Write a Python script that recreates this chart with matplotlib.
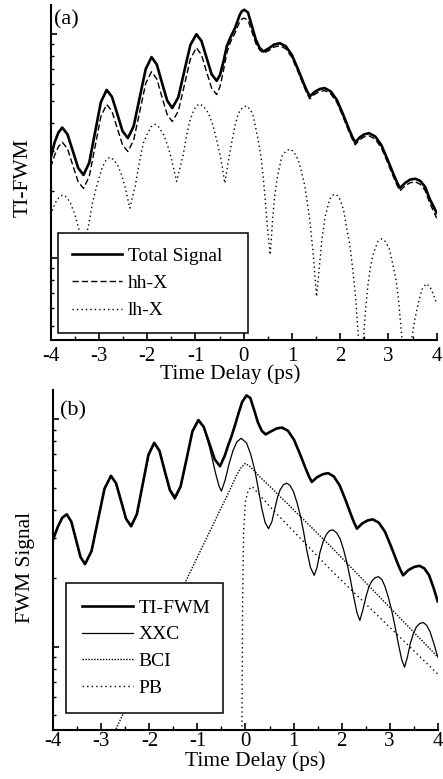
import numpy as np
import matplotlib
matplotlib.use("Agg")
import matplotlib.pyplot as plt
from matplotlib.ticker import LogLocator, NullFormatter, MultipleLocator

plt.rcParams['font.family'] = ['Liberation Serif', 'DejaVu Serif']
plt.rcParams['axes.unicode_minus'] = False

# ---------------- data (signal values given as log10 of arb. units) ----------------
xticks = [-4, -3, -2, -1, 0, 1, 2, 3, 4]
xtick_labels = ['-4', '-3', '-2', '-1', '0', '1', '2', '3', '4']

# panel (a): Total Signal and hh-X share delay points
a_x = [-4.00, -3.92, -3.84, -3.76, -3.65, -3.54, -3.43, -3.32, -3.20, -3.08, -2.96, -2.84,
       -2.73, -2.62, -2.51, -2.40, -2.28, -2.155, -2.03, -1.91, -1.80, -1.695, -1.585, -1.48,
       -1.355, -1.23, -1.105, -0.98, -0.875, -0.77, -0.665, -0.56, -0.49, -0.42, -0.35, -0.28,
       -0.18, -0.08, -0.04, 0.01, 0.09, 0.17, 0.25, 0.33, 0.41, 0.52, 0.63, 0.75, 0.874,
       0.998, 1.122, 1.246, 1.308, 1.37, 1.47, 1.58, 1.68, 1.806, 1.932, 2.058, 2.184, 2.247,
       2.31, 2.41, 2.50, 2.60, 2.728, 2.856, 2.984, 3.112, 3.176, 3.24, 3.35, 3.45, 3.56,
       3.66, 3.76, 3.86, 3.94, 4.00]
a_total_log10 = [0.446, 0.515, 0.560, 0.582, 0.551, 0.477, 0.402, 0.371, 0.426, 0.561, 0.695,
                 0.750, 0.719, 0.643, 0.566, 0.535, 0.588, 0.716, 0.843, 0.896, 0.863, 0.783,
                 0.702, 0.669, 0.717, 0.834, 0.950, 0.998, 0.968, 0.894, 0.820, 0.790, 0.817,
                 0.875, 0.944, 0.981, 1.025, 1.085, 1.100, 1.107, 1.095, 1.035, 0.975, 0.937,
                 0.921, 0.935, 0.952, 0.958, 0.944, 0.906, 0.844, 0.778, 0.747, 0.721, 0.741,
                 0.754, 0.758, 0.743, 0.705, 0.642, 0.574, 0.543, 0.516, 0.539, 0.552, 0.557,
                 0.542, 0.503, 0.438, 0.371, 0.339, 0.312, 0.336, 0.350, 0.354, 0.344, 0.318,
                 0.262, 0.228, 0.201]
a_hh_log10 = [0.405, 0.458, 0.496, 0.517, 0.487, 0.413, 0.340, 0.311, 0.364, 0.497, 0.631,
              0.685, 0.655, 0.579, 0.504, 0.475, 0.526, 0.652, 0.779, 0.831, 0.799, 0.719,
              0.640, 0.609, 0.655, 0.770, 0.887, 0.938, 0.906, 0.831, 0.758, 0.729, 0.765,
              0.835, 0.914, 0.960, 1.003, 1.055, 1.065, 1.070, 1.060, 1.010, 0.958, 0.928,
              0.914, 0.925, 0.941, 0.947, 0.933, 0.895, 0.833, 0.767, 0.736, 0.710, 0.730,
              0.743, 0.747, 0.732, 0.694, 0.631, 0.563, 0.532, 0.505, 0.528, 0.541, 0.545,
              0.530, 0.491, 0.425, 0.358, 0.326, 0.300, 0.323, 0.336, 0.340, 0.329, 0.302,
              0.244, 0.207, 0.178]
a_lh_x = [-4.00, -3.91, -3.83, -3.75, -3.67, -3.59, -3.50, -3.43, -3.32, -3.22, -3.13, -3.05,
          -2.93, -2.85, -2.77, -2.69, -2.60, -2.53, -2.46, -2.36, -2.25, -2.16, -2.08, -2.00,
          -1.92, -1.84, -1.76, -1.66, -1.58, -1.51, -1.39, -1.26, -1.18, -1.11, -1.03, -0.99,
          -0.91, -0.83, -0.73, -0.64, -0.56, -0.47, -0.39, -0.32, -0.25, -0.18, -0.11, -0.02,
          0.06, 0.14, 0.20, 0.30, 0.36, 0.41, 0.45, 0.49, 0.55, 0.61, 0.65, 0.70, 0.79, 0.88,
          0.96, 1.04, 1.13, 1.20, 1.27, 1.37, 1.44, 1.51, 1.57, 1.62, 1.69, 1.78, 1.84, 1.89,
          1.95, 2.00, 2.07, 2.13, 2.20, 2.27, 2.33, 2.38, 2.43, 2.48, 2.53, 2.58, 2.63, 2.69,
          2.78, 2.86, 2.94, 3.02, 3.10, 3.16, 3.21, 3.27, 3.36, 3.48, 3.54, 3.59, 3.69, 3.78,
          3.86, 3.93, 4.00]
a_lh_log10 = [0.193, 0.245, 0.270, 0.282, 0.272, 0.245, 0.195, 0.141, 0.052, 0.141, 0.250,
              0.319, 0.405, 0.438, 0.450, 0.438, 0.409, 0.370, 0.319, 0.223, 0.319, 0.430,
              0.513, 0.552, 0.585, 0.597, 0.585, 0.550, 0.505, 0.453, 0.342, 0.453, 0.550,
              0.617, 0.660, 0.676, 0.688, 0.676, 0.646, 0.595, 0.527, 0.440, 0.334, 0.430,
              0.513, 0.590, 0.646, 0.672, 0.679, 0.662, 0.632, 0.527, 0.450, 0.349, 0.250,
              0.141, 0.015, 0.201, 0.290, 0.364, 0.453, 0.478, 0.486, 0.474, 0.438, 0.385,
              0.319, 0.171, 0.022, -0.171, -0.037, 0.082, 0.186, 0.260, 0.280, 0.285, 0.278,
              0.260, 0.215, 0.141, 0.060, -0.067, -0.200, -0.364, -0.557, -0.364, -0.220,
              -0.111, -0.035, 0.022, 0.074, 0.086, 0.074, 0.040, -0.037, -0.100, -0.186,
              -0.334, -0.557, -0.364, -0.280, -0.230, -0.141, -0.114, -0.126, -0.160, -0.204]

# panel (b)
b_ti_x = [-4.00, -3.90, -3.81, -3.72, -3.625, -3.53, -3.435, -3.34, -3.205, -3.07, -2.935,
          -2.80, -2.695, -2.59, -2.485, -2.38, -2.26, -2.14, -2.02, -1.90, -1.79, -1.685,
          -1.575, -1.47, -1.35, -1.225, -1.105, -0.98, -0.87, -0.755, -0.64, -0.53, -0.43,
          -0.36, -0.29, -0.22, -0.15, -0.07, 0.02, 0.10, 0.18, 0.26, 0.34, 0.42, 0.53, 0.65,
          0.76, 0.884, 1.008, 1.132, 1.256, 1.318, 1.38, 1.49, 1.61, 1.72, 1.84, 1.96, 2.08,
          2.20, 2.26, 2.32, 2.43, 2.54, 2.65, 2.776, 2.902, 3.028, 3.154, 3.217, 3.28, 3.39,
          3.51, 3.62, 3.72, 3.82, 3.91, 4.00]
b_ti_log10 = [0.474, 0.530, 0.568, 0.582, 0.550, 0.473, 0.395, 0.363, 0.420, 0.557, 0.694,
              0.751, 0.719, 0.641, 0.562, 0.530, 0.583, 0.713, 0.843, 0.896, 0.861, 0.776,
              0.690, 0.655, 0.705, 0.826, 0.946, 0.996, 0.966, 0.895, 0.823, 0.793, 0.840,
              0.885, 0.925, 0.972, 1.022, 1.075, 1.104, 1.093, 1.040, 0.985, 0.948, 0.933,
              0.946, 0.959, 0.963, 0.949, 0.910, 0.848, 0.781, 0.750, 0.724, 0.745, 0.758,
              0.763, 0.748, 0.709, 0.646, 0.578, 0.546, 0.519, 0.542, 0.555, 0.560, 0.545,
              0.506, 0.442, 0.373, 0.341, 0.314, 0.337, 0.351, 0.356, 0.345, 0.315, 0.262,
              0.200]
b_xxc_x = [-4.00, -3.90, -3.81, -3.72, -3.625, -3.53, -3.435, -3.34, -3.205, -3.07, -2.935,
           -2.80, -2.695, -2.59, -2.485, -2.38, -2.26, -2.14, -2.02, -1.90, -1.79, -1.685,
           -1.575, -1.47, -1.35, -1.225, -1.105, -0.98, -0.86, -0.74, -0.62, -0.55, -0.50,
           -0.42, -0.34, -0.26, -0.18, -0.09, 0.02, 0.11, 0.20, 0.27, 0.34, 0.41, 0.48, 0.55,
           0.61, 0.67, 0.72, 0.79, 0.86, 0.93, 1.00, 1.07, 1.14, 1.21, 1.27, 1.35, 1.43, 1.49,
           1.55, 1.62, 1.69, 1.75, 1.82, 1.90, 1.97, 2.04, 2.11, 2.18, 2.25, 2.32, 2.38, 2.44,
           2.51, 2.57, 2.63, 2.70, 2.77, 2.84, 2.90, 2.97, 3.04, 3.11, 3.18, 3.25, 3.31, 3.37,
           3.43, 3.50, 3.56, 3.63, 3.70, 3.77, 3.84, 3.92, 4.00]
b_xxc_log10 = [0.474, 0.530, 0.568, 0.582, 0.550, 0.473, 0.395, 0.363, 0.420, 0.557, 0.694,
               0.751, 0.719, 0.641, 0.562, 0.527, 0.580, 0.710, 0.840, 0.893, 0.858, 0.771,
               0.684, 0.648, 0.700, 0.823, 0.944, 0.994, 0.960, 0.870, 0.760, 0.705, 0.684,
               0.735, 0.805, 0.862, 0.900, 0.916, 0.896, 0.845, 0.770, 0.690, 0.607, 0.545,
               0.519, 0.550, 0.607, 0.660, 0.689, 0.712, 0.719, 0.708, 0.681, 0.635, 0.578,
               0.505, 0.430, 0.350, 0.314, 0.350, 0.415, 0.465, 0.496, 0.510, 0.514, 0.500,
               0.474, 0.428, 0.370, 0.300, 0.222, 0.150, 0.116, 0.160, 0.222, 0.265, 0.289,
               0.304, 0.308, 0.295, 0.267, 0.220, 0.163, 0.092, 0.015, -0.055, -0.089, -0.045,
               0.015, 0.062, 0.089, 0.103, 0.107, 0.095, 0.067, 0.015, -0.044]
b_bci_x = [-2.85, -1.26, -0.30, -0.20, -0.10, -0.01, 0.08, 0.18, 0.30, 0.51, 1.76, 4.00]
b_bci_log10 = [-0.430, 0.281, 0.700, 0.748, 0.785, 0.805, 0.795, 0.774, 0.746, 0.704, 0.444,
               -0.044]
b_pb_x = [-0.075, -0.06, -0.04, 0.00, 0.06, 0.14, 0.51, 1.76, 4.00]
b_pb_log10 = [-0.450, 0.200, 0.500, 0.640, 0.690, 0.704, 0.615, 0.341, -0.119]

ylim_log10 = (-0.365, 1.128)

# ---------------- figure ----------------
fig = plt.figure(figsize=(4.43, 7.79), dpi=100)
ax1 = fig.add_axes([0.1144, 0.5635, 0.8713, 0.4300])
ax2 = fig.add_axes([0.1203, 0.0629, 0.8677, 0.4365])


def v(arr):
    return 10.0 ** np.asarray(arr)


ax1.plot(a_x, v(a_total_log10), color='black', lw=1.9, label='Total Signal')
ax1.plot(a_x, v(a_hh_log10), color='black', lw=1.0, ls=(0, (4.5, 2.2)), label='hh-X')
ax1.plot(a_lh_x, v(a_lh_log10), color='black', lw=1.0, ls=(0, (1, 2.2)), label='lh-X')

ax2.plot(b_ti_x, v(b_ti_log10), color='black', lw=1.9, label='TI-FWM')
ax2.plot(b_xxc_x, v(b_xxc_log10), color='black', lw=0.9, label='XXC')
ax2.plot(b_bci_x, v(b_bci_log10), color='black', lw=1.0, ls=(0, (1, 1.1)), label='BCI')
ax2.plot(b_pb_x, v(b_pb_log10), color='black', lw=1.0, ls=(0, (1, 2.3)), label='PB')

for ax in (ax1, ax2):
    ax.set_yscale('log')
    ax.set_xlim(-4, 4)
    ax.set_ylim(10 ** ylim_log10[0], 10 ** ylim_log10[1])
    ax.spines['top'].set_visible(False)
    ax.spines['right'].set_visible(False)
    ax.spines['left'].set_linewidth(1.5)
    ax.spines['bottom'].set_linewidth(1.5)
    ax.set_xticks(xticks)
    ax.set_xticklabels(xtick_labels)
    ax.xaxis.set_minor_locator(MultipleLocator(0.5))
    ax.yaxis.set_major_locator(LogLocator(base=10))
    ax.yaxis.set_minor_locator(LogLocator(base=10, subs=np.arange(2, 10)))
    ax.yaxis.set_major_formatter(NullFormatter())
    ax.yaxis.set_minor_formatter(NullFormatter())
    ax.tick_params(axis='x', which='major', direction='in', length=5, width=1.2, labelsize=15)
    ax.tick_params(axis='x', which='minor', direction='in', length=3, width=1.0)
    ax.tick_params(axis='y', which='major', direction='in', length=4.5, width=1.2)
    ax.tick_params(axis='y', which='minor', direction='in', length=2.5, width=1.0)

ax1.tick_params(axis='x', which='major', pad=5)
ax2.tick_params(axis='x', which='major', pad=1.5)

ax1.set_xlabel('Time Delay (ps)', fontsize=15.5)
ax1.xaxis.set_label_coords(0.466, -0.072)
ax1.set_ylabel('TI-FWM', fontsize=15.5)
ax1.yaxis.set_label_coords(-0.046, 0.484)
ax2.set_xlabel('Time Delay (ps)', fontsize=15.5)
ax2.xaxis.set_label_coords(0.525, -0.062)
ax2.set_ylabel('FWM Signal', fontsize=15.5)
ax2.yaxis.set_label_coords(-0.048, 0.478)

ax1.text(0.008, 0.985, '(a)', transform=ax1.transAxes, va='top', ha='left', fontsize=16)
ax2.text(0.017, 0.968, '(b)', transform=ax2.transAxes, va='top', ha='left', fontsize=16)

leg_kw = dict(loc='lower left', mode='expand', borderaxespad=0, fontsize=14,
              handlelength=2.6, handletextpad=0.3,
              fancybox=False, framealpha=1, edgecolor='black')
l1 = ax1.legend(bbox_to_anchor=(0.019, 0.021, 0.492, 0.3), borderpad=0.7,
                labelspacing=0.5, **leg_kw)
l2 = ax2.legend(bbox_to_anchor=(0.033, 0.050, 0.408, 0.4), borderpad=0.83,
                labelspacing=0.47, **leg_kw)
for lg in (l1, l2):
    lg.get_frame().set_linewidth(1.1)

fig.savefig('out.png', dpi=100)
